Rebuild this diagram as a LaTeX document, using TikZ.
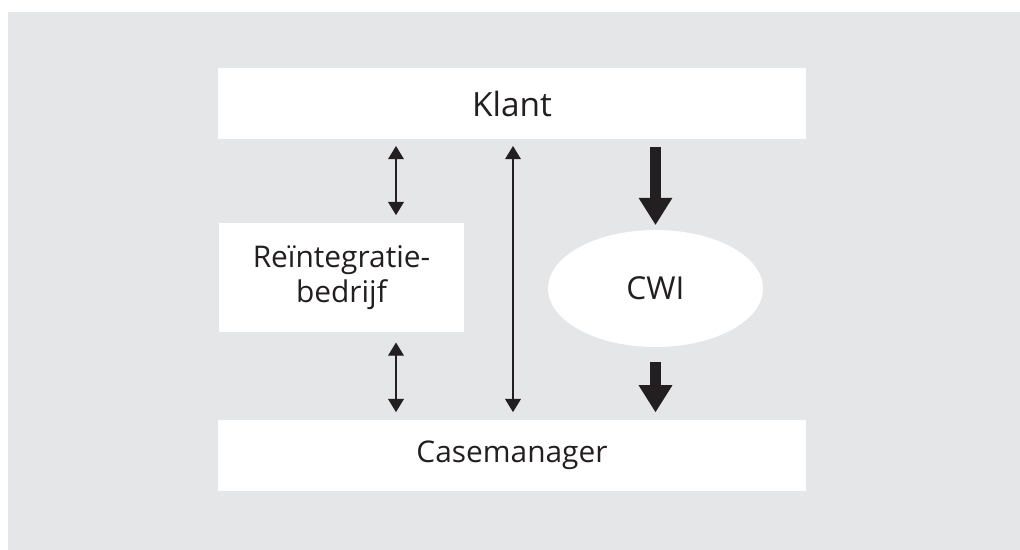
\documentclass[tikz,border=0pt]{standalone}
\usepackage{fontspec}
\setmainfont{Open Sans}
\usepackage{tikz}
\usetikzlibrary{arrows.meta, positioning, shapes.geometric}

\definecolor{panelgray}{HTML}{E5E6E8}
\definecolor{inkblack}{HTML}{231F20}

\begin{document}
\begin{tikzpicture}[x=0.02cm, y=-0.02cm,
    box node/.style={fill=white, inner sep=0pt, outer sep=0pt, align=center,
        text=inkblack, font=\fontsize{17}{19.5}\selectfont},
    thin arrow/.style={inkblack, line width=0.6pt, {Triangle[width=9pt, length=7.5pt]}-{Triangle[width=9pt, length=7.5pt]}},
    thick arrow/.style={inkblack, line width=6.2pt, -{Triangle[width=19.3pt, length=15.3pt, line width=0pt]}}]
    \useasboundingbox (0,0) rectangle (1020,550);
    \fill[panelgray] (8,12) rectangle (1020,550);

    \node[box node, minimum width=11.76cm, minimum height=1.42cm, font=\fontsize{19}{22}\selectfont] (klant) at (512,103.5) {Klant};
    \node[box node, minimum width=4.9cm, minimum height=2.18cm] (reint) at (341.5,277.5) {Reïntegratie-\\bedrijf};
    \node[box node, ellipse, minimum width=4.3cm, minimum height=2.34cm, font=\fontsize{18}{21}\selectfont] (cwi) at (655.5,288.5) {CWI};
    \node[box node, minimum width=11.76cm, minimum height=1.42cm] (case) at (512,455.5) {Casemanager};

    \draw[thin arrow, shorten <=4pt, shorten >=4.5pt] ([xshift=1.09cm]reint.north |- klant.south) -- ([xshift=1.09cm]reint.north);
    \draw[thin arrow, shorten <=6pt, shorten >=4.5pt] ([xshift=1.09cm]reint.south) -- ([xshift=1.09cm]reint.south |- case.north);
    \draw[thin arrow, shorten <=4pt, shorten >=4.5pt] ([xshift=0.02cm]klant.south) -- ([xshift=0.02cm]case.north);

    \draw[thick arrow, shorten <=4.5pt, shorten >=3pt] (cwi.north |- klant.south) -- (cwi.north);
    \draw[thick arrow, shorten <=8.5pt, shorten >=4.5pt] (cwi.south) -- (cwi.south |- case.north);
\end{tikzpicture}
\end{document}
